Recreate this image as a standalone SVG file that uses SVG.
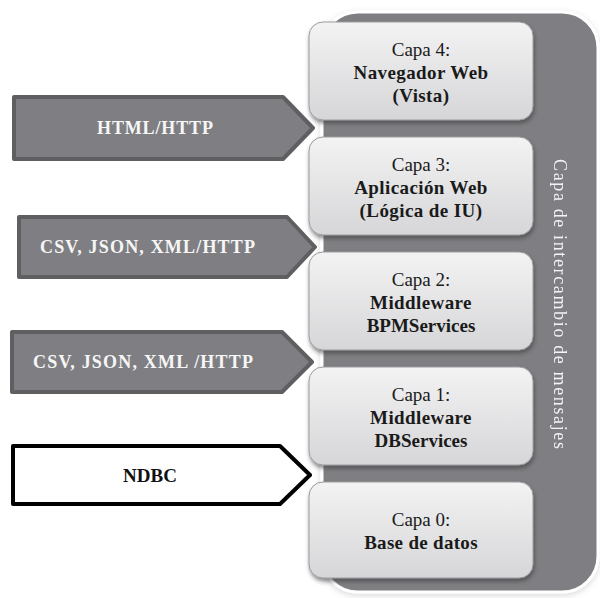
<svg xmlns="http://www.w3.org/2000/svg" width="600" height="598" viewBox="0 0 600 598">
<defs>
<linearGradient id="boxg" x1="0" y1="0" x2="0" y2="1">
<stop offset="0" stop-color="#f3f3f4"/>
<stop offset="1" stop-color="#d6d6d8"/>
</linearGradient>
<filter id="sh" x="-10%" y="-10%" width="125%" height="125%">
<feGaussianBlur in="SourceAlpha" stdDeviation="2"/>
<feOffset dx="1" dy="3" result="b"/>
<feFlood flood-color="#3a3a3c" flood-opacity="0.6"/>
<feComposite in2="b" operator="in"/>
<feMerge><feMergeNode/><feMergeNode in="SourceGraphic"/></feMerge>
</filter>
<filter id="glow" x="-10%" y="-10%" width="120%" height="120%">
<feGaussianBlur in="SourceAlpha" stdDeviation="3"/>
<feOffset dx="0" dy="2" result="b"/>
<feFlood flood-color="#000" flood-opacity="0.15"/>
<feComposite in2="b" operator="in"/>
<feMerge><feMergeNode/><feMergeNode in="SourceGraphic"/></feMerge>
</filter>
</defs>
<style>
.box{fill:url(#boxg);stroke:#9c9c9f;stroke-width:1;filter:url(#sh)}
.t{font-family:"Liberation Serif","Times New Roman",serif;font-size:19px;fill:#1a1a1a;text-anchor:middle}
.b{font-weight:bold}
.arr{fill:#7f7f83;stroke:#5f5f62;stroke-width:4;stroke-linejoin:round}
.arrw{fill:#ffffff;stroke:#000000;stroke-width:4;stroke-linejoin:round}
.at{font-family:"Liberation Serif","Times New Roman",serif;font-size:18px;font-weight:bold;fill:#f6f6f6}
.side{font-family:"Liberation Serif","Times New Roman",serif;font-size:18px;fill:#f4f4f4}
</style>

<g id="panel" filter="url(#glow)">
<rect x="322" y="12" width="276" height="580" rx="36" ry="36" fill="#7f7f83" stroke="#ffffff" stroke-width="3"/>
<text class="side" transform="translate(554,304) rotate(90)" text-anchor="middle" textLength="290" lengthAdjust="spacing">Capa de intercambio  de  mensajes</text>
</g>

<g id="connectors">
<g id="arrow-html">
<polygon class="arr" points="14,97 283,97 313,128 283,159 14,159"/>
<text class="at" x="155" y="134" text-anchor="middle" textLength="116" lengthAdjust="spacing">HTML/HTTP</text>
</g>
<g id="arrow-csv1">
<polygon class="arr" points="19,217 287,217 315,247 287,277 19,277"/>
<text class="at" x="40" y="253" textLength="215" lengthAdjust="spacing">CSV, JSON, XML/HTTP</text>
</g>
<g id="arrow-csv2">
<polygon class="arr" points="12,332 282,332 312,362 282,392 12,392"/>
<text class="at" x="33" y="368" textLength="220" lengthAdjust="spacing">CSV, JSON, XML /HTTP</text>
</g>
<g id="arrow-ndbc">
<polygon class="arrw" points="13,446 280,446 310,475 280,504 13,504"/>
<text class="at" x="150" y="482" text-anchor="middle" style="fill:#111;font-size:19px">NDBC</text>
</g>
</g>

<g id="capa4">
<rect class="box" x="309" y="22" width="224" height="98" rx="14"/>
<text class="t" x="421" y="56">Capa 4:</text>
<text class="t b" x="421" y="79" letter-spacing="0.4">Navegador Web</text>
<text class="t b" x="421" y="102" letter-spacing="0.4">(Vista)</text>
</g>
<g id="capa3">
<rect class="box" x="309" y="137" width="224" height="98" rx="14"/>
<text class="t" x="421" y="171">Capa 3:</text>
<text class="t b" x="421" y="194" letter-spacing="0.4">Aplicación Web</text>
<text class="t b" x="421" y="217" letter-spacing="0.4">(Lógica de IU)</text>
</g>
<g id="capa2">
<rect class="box" x="309" y="252" width="224" height="98" rx="14"/>
<text class="t" x="421" y="286">Capa 2:</text>
<text class="t b" x="421" y="309" letter-spacing="0.4">Middleware</text>
<text class="t b" x="421" y="332">BPMServices</text>
</g>
<g id="capa1">
<rect class="box" x="309" y="367" width="224" height="98" rx="14"/>
<text class="t" x="421" y="401">Capa 1:</text>
<text class="t b" x="421" y="424" letter-spacing="0.4">Middleware</text>
<text class="t b" x="421" y="447">DBServices</text>
</g>
<g id="capa0">
<rect class="box" x="309" y="482" width="224" height="96" rx="14"/>
<text class="t" x="421" y="526">Capa 0:</text>
<text class="t b" x="421" y="549" letter-spacing="0.3">Base de datos</text>
</g>
</svg>
